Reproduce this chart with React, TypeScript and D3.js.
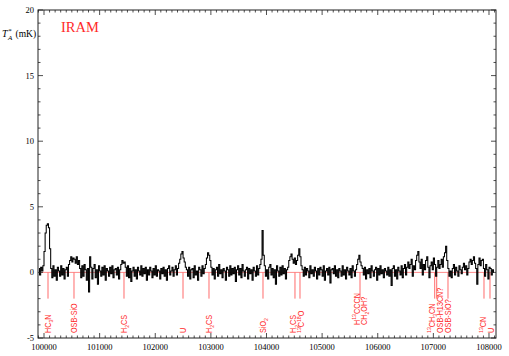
import React from "react";
import * as d3 from "d3";

// Spectrum: first channel frequency and channel width (MHz)
const F0 = 99910;
const DF = 20;
const intensity = [
  0.3, -0.2, 0.4, 0.1, 0.5, 1.6, 3.0, 3.6, 3.7, 3.4,
  1.8, 0.3, -0.4, 0.5, -0.3, 0.2, -0.6, 0.4, 0.1, -0.3,
  0.5, -0.2, 0.3, -0.5, 0.2, 0.4, -0.3, 0.6, 0.9, 1.2,
  0.8, 1.1, 1.0, 0.7, 1.2, 0.6, 0.9, 0.3, -0.4, 0.5,
  -0.3, 0.6, 0.2, -0.6, 0.3, -1.5, 1.2, 0.4, -0.5, 0.3,
  0.6, -0.4, 0.2, -0.9, 0.5, 0.1, -0.3, 0.4, -0.2, 0.5,
  -0.6, 0.3, 0.1, -0.3, 0.4, -0.1, 0.5, -0.4, 0.2, 0.3,
  -0.2, 0.4, -0.5, 0.2, 0.6, 0.9, 0.7, 0.8, 0.4, -0.3,
  0.5, -0.4, 0.3, -0.7, 0.1, 0.4, -0.3, 0.2, -0.5, 0.4,
  0.1, -0.2, 0.5, -0.3, 0.3, -0.1, 0.4, -0.6, 0.2, -0.2,
  0.4, 0.1, -0.4, 0.3, -0.2, 0.5, -0.3, 0.2, 0.1, -0.5,
  0.3, -0.1, 0.4, -0.3, 0.2, -0.6, 0.3, 0.5, -0.2, 0.1,
  0.4, -0.3, 0.2, 0.5, -0.2, 0.3, 0.7, 1.0, 1.4, 1.6,
  1.1, 0.8, 0.4, 0.2, -0.3, 0.4, -0.5, 0.2, 0.3, -0.4,
  0.5, -0.2, 0.1, -0.6, 0.4, 0.2, -0.3, 0.5, -0.1, 0.3,
  0.6, 1.1, 1.5, 1.3, 0.9, 0.4, -0.2, 0.3, -0.5, 0.2,
  0.4, -0.3, 0.6, -0.1, 0.2, -0.4, 0.3, 0.1, -0.6, 0.4,
  0.2, -0.3, 0.5, -0.2, 0.3, -0.1, 0.4, -0.7, 0.2, 0.5,
  -0.2, 0.3, -0.4, 0.6, 0.1, -0.3, 0.2, 0.4, -0.5, 0.3,
  -0.1, 0.2, -0.6, 0.4, 0.1, -0.3, 0.5, -0.2, 0.3, 0.6,
  1.0, 3.2, 1.3, 0.5, -0.3, 0.2, -0.5, 0.4, 0.6, -0.2,
  0.3, -0.4, 0.2, -0.9, 0.5, 0.1, -0.3, 0.4, -0.2, 0.5,
  -0.1, 0.3, -0.5, 0.2, 0.4, 0.9, 1.2, 1.4, 1.0, 0.7,
  1.1, 0.6, 0.9, 1.3, 1.8, 1.2, 0.5, 0.2, -0.3, 0.4,
  -0.2, 0.3, 0.1, -0.4, 0.5, -0.1, 0.2, -0.3, 0.4, 0.1,
  -0.5, 0.3, -0.2, 0.4, 0.2, -0.3, 0.5, -0.6, 0.1, 0.3,
  -0.2, 0.4, -0.8, 0.2, 0.3, -0.1, 0.5, -0.3, 0.2, -0.4,
  0.3, 0.1, -0.3, 0.5, -0.2, 0.2, -0.5, 0.4, 0.1, -0.2,
  0.3, -0.4, 0.5, 0.1, -0.3, 0.2, 0.6, 1.0, 1.3, 0.8,
  0.5, 0.3, -0.2, 0.4, -0.5, 0.2, -0.1, 0.3, -0.4, 0.5,
  0.1, -0.3, 0.2, 0.4, -0.6, 0.3, -0.2, 0.5, -0.1, 0.2,
  -0.4, 0.3, 0.1, -0.2, 0.4, -0.3, 0.2, -1.0, 0.3, 0.5,
  -0.3, 0.2, -0.5, 0.4, 0.1, -0.2, 0.5, -0.4, 0.3, 0.6,
  -0.2, 0.4, 0.8, 0.3, 0.6, 1.0, -0.3, 0.5, 0.2, 0.9,
  1.3, 1.6, 0.8, 0.3, 1.0, -0.2, 0.6, 0.2, 0.9, 1.2,
  0.4, -0.4, 0.5, 0.8, 0.2, 1.1, 0.6, -0.3, 0.4, 0.9,
  0.3, 0.6, 1.0, 0.4, 1.2, 1.5, 2.0, 0.9, 0.3, -0.3,
  0.1, -0.4, 0.3, 0.6, -0.2, 0.4, 0.1, -0.3, 0.5, 0.2,
  -0.1, 0.4, 0.7, 0.2, 0.5, -0.2, 0.3, 0.8, 1.0, 0.6,
  0.9, 1.2, 0.7, 0.3, -0.9, 0.6, 1.1, 0.5, 0.9, 1.0,
  0.3, -0.3, 0.6, 0.2, -0.5, 0.4, 0.3, -0.2, 0.2, 0.0,
];

// Line identifications
const lineFreqs = [
  100072, 100539, 101438, 102499, 102966, 103937, 104512, 104602,
  105681, 107024, 107060, 107263, 107910, 108018,
];
const lineLabels = [
  "HC_3N", "OSB-SiO", "H_2CS", "U", "H_2CS", "SiO_2", "H_2CS", "^{13}C^{18}O",
  "H^{13}CCCN|CH_2OH?", "^{13}CH_3CN", "OSB-H13CN?", "OSB-SiO?", "^{13}CN", "U",
];

const xTickValues = [100000, 101000, 102000, 103000, 104000, 105000, 106000, 107000, 108000];
const yTickValues = [-5, 0, 5, 10, 15, 20];
const xDomain = [99892, 108126];
const yDomain = [-5, 20];
const lineBottom = -2;
const title = "IRAM";

const W = 509, H = 356;
const L = 38, R = 496, T = 10, B = 338;
const RED = "#ff2a2a";
const LINE_RED = "#ff6b6b";

function rich(text: string, size: number) {
  const re = /\^\{([^}]*)\}|_(\d+)|([^_^]+)/g;
  const out: any[] = [];
  let m: RegExpExecArray | null;
  let off = 0;
  let k = 0;
  while ((m = re.exec(text))) {
    let target = 0;
    let s = "";
    let fs = size;
    if (m[1] !== undefined) { target = -size * 0.38; s = m[1]; fs = size * 0.72; }
    else if (m[2] !== undefined) { target = size * 0.28; s = m[2]; fs = size * 0.72; }
    else { s = m[3]; }
    out.push(<tspan key={k++} dy={target - off} fontSize={fs}>{s}</tspan>);
    off = target;
  }
  return out;
}

export default function App() {
  const x = d3.scaleLinear().domain(xDomain).range([L, R]);
  const y = d3.scaleLinear().domain(yDomain).range([B, T]);

  const pts: [number, number][] = intensity.map((v, i) => [F0 + i * DF, v]);
  const path = d3.line<[number, number]>()
    .x((d) => x(d[0]))
    .y((d) => y(d[1]))
    .curve(d3.curveStep)(pts) || "";

  const minorX = d3.range(99900, 108101, 100);
  const minorY = d3.range(-5, 21, 1);

  // label positions with simple separation relaxation
  const lx = lineFreqs.map((f) => x(f));
  const pos = lx.slice();
  for (let it = 0; it < 50; it++) {
    for (let i = 1; i < pos.length; i++) {
      const gap = pos[i] - pos[i - 1];
      const minGap = 8;
      if (gap < minGap) {
        const d = (minGap - gap) / 2;
        pos[i - 1] -= d;
        pos[i] += d;
      }
    }
  }

  const fsLab = 8.6;
  const spectrumStart = x(F0);
  const spectrumEnd = x(F0 + (intensity.length - 1) * DF);

  return (
    <svg width={W} height={H} style={{ position: "fixed", left: 0, top: 0, background: "#fff" }}
      fontFamily="'Liberation Serif', 'DejaVu Serif', serif">
      <rect x={0} y={0} width={W} height={H} fill="#fff" />
      {/* baseline */}
      <line x1={spectrumStart} x2={spectrumEnd} y1={y(0)} y2={y(0)} stroke={LINE_RED} strokeWidth={0.8} />
      {/* line markers */}
      {lx.map((px, i) => (
        <line key={"m" + i} x1={px} x2={px} y1={y(0)} y2={y(lineBottom)} stroke={LINE_RED} strokeWidth={1} />
      ))}
      {/* spectrum */}
      <path d={path} fill="none" stroke="#000" strokeWidth={1.05} />
      {/* labels */}
      {lineLabels.map((lab, i) => {
        const parts = lab.split("|");
        return parts.map((p, j) => {
          const cx = pos[i] + (j - (parts.length - 1) / 2) * 7;
          const by = parts.length > 1 ? 325 : 333;
          return (
            <text key={"l" + i + "_" + j} transform={`translate(${cx + 3},${by}) rotate(-90) scale(0.84,1)`}
              fill={RED} fontSize={fsLab} fontFamily="'Liberation Sans', Arial, sans-serif">
              {rich(p, fsLab)}
            </text>
          );
        });
      })}
      {/* frame */}
      <rect x={L} y={T} width={R - L} height={B - T} fill="none" stroke="#222" strokeWidth={1} />
      {/* x ticks */}
      {minorX.map((v) => {
        const major = v % 1000 === 0;
        const len = major ? 5 : 2.5;
        const px = x(v);
        return (
          <g key={"xt" + v}>
            <line x1={px} x2={px} y1={B} y2={B - len} stroke="#222" strokeWidth={0.8} />
            <line x1={px} x2={px} y1={T} y2={T + len} stroke="#222" strokeWidth={0.8} />
          </g>
        );
      })}
      {xTickValues.map((v) => (
        <text key={"xl" + v} x={x(v)} y={350} textAnchor="middle" fontSize={8.5} fill="#000">{v}</text>
      ))}
      {/* y ticks */}
      {minorY.map((v) => {
        const major = v % 5 === 0;
        const len = major ? 5 : 2.5;
        const py = y(v);
        return (
          <g key={"yt" + v}>
            <line x1={L} x2={L + len} y1={py} y2={py} stroke="#222" strokeWidth={0.8} />
            <line x1={R} x2={R - len} y1={py} y2={py} stroke="#222" strokeWidth={0.8} />
          </g>
        );
      })}
      {yTickValues.map((v) => (
        <text key={"yl" + v} x={34} y={y(v) + 3} textAnchor="end" fontSize={8.5} fill="#000">{v}</text>
      ))}
      {/* y axis label */}
      <text x={2} y={37} fontSize={10} fill="#000" fontStyle="italic">T</text>
      <text x={8.3} y={33} fontSize={7} fill="#000">*</text>
      <text x={8} y={39.5} fontSize={7} fill="#000" fontStyle="italic">A</text>
      <text x={15.5} y={37} fontSize={9.5} fill="#000">(mK)</text>
      {/* title */}
      <text x={61} y={32} fontSize={14.5} fill={RED}>{title}</text>
    </svg>
  );
}
